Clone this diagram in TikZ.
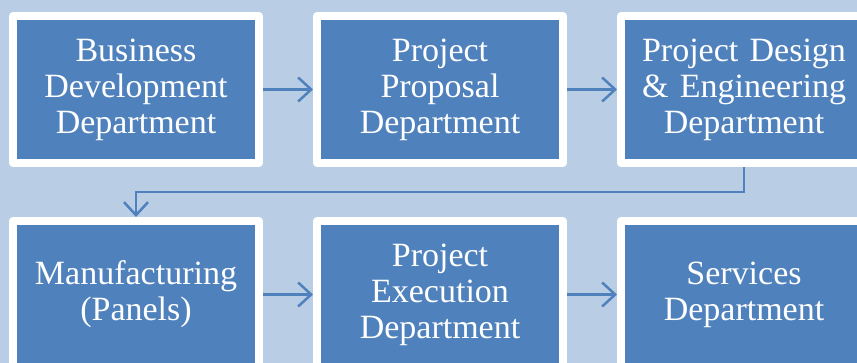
\documentclass[tikz,border=0pt]{standalone}
\usepackage{fontspec}
\setmainfont{Liberation Serif}
\usetikzlibrary{positioning, arrows.meta}
\definecolor{deptblue}{HTML}{4F81BD}
\definecolor{paleblue}{HTML}{B9CDE5}

\begin{document}
\begin{tikzpicture}[x=1pt,y=1pt,
  dept/.style={draw=white,fill=deptblue,line width=8pt,line join=round,minimum width=246pt,minimum height=147pt,
    inner sep=0pt,outer sep=4pt,text=white,text width=240pt,align=center,font=\fontsize{34pt}{36pt}\selectfont},
  flow/.style={draw=deptblue,line width=2.5pt,-{Straight Barb[length=13pt,width=24pt,line width=2.5pt]}}]
  \clip (0,0) rectangle (857,363);
  \fill[paleblue] (0,0) rectangle (857,363);
  \node[dept] (bizdev) at (136,273.5) {Business\\Development\\Department};
  \node[dept,right=50pt of bizdev] (proposal) {Project\\Proposal\\Department};
  \node[dept,right=50pt of proposal] (design) {Project Design\\\& Engineering\\Department};
  \node[dept,below=50pt of bizdev] (manuf) {Manufacturing\\(Panels)};
  \node[dept,right=50pt of manuf] (execution) {Project\\Execution\\Department};
  \node[dept,right=50pt of execution] (services) {Services\\Department};
  \draw[flow] (bizdev) -- (proposal);
  \draw[flow] (proposal) -- (design);
  \draw[flow] (design.south) -- ++(0,-25) -| (manuf.north);
  \draw[flow] (manuf) -- (execution);
  \draw[flow] (execution) -- (services);
\end{tikzpicture}
\end{document}
